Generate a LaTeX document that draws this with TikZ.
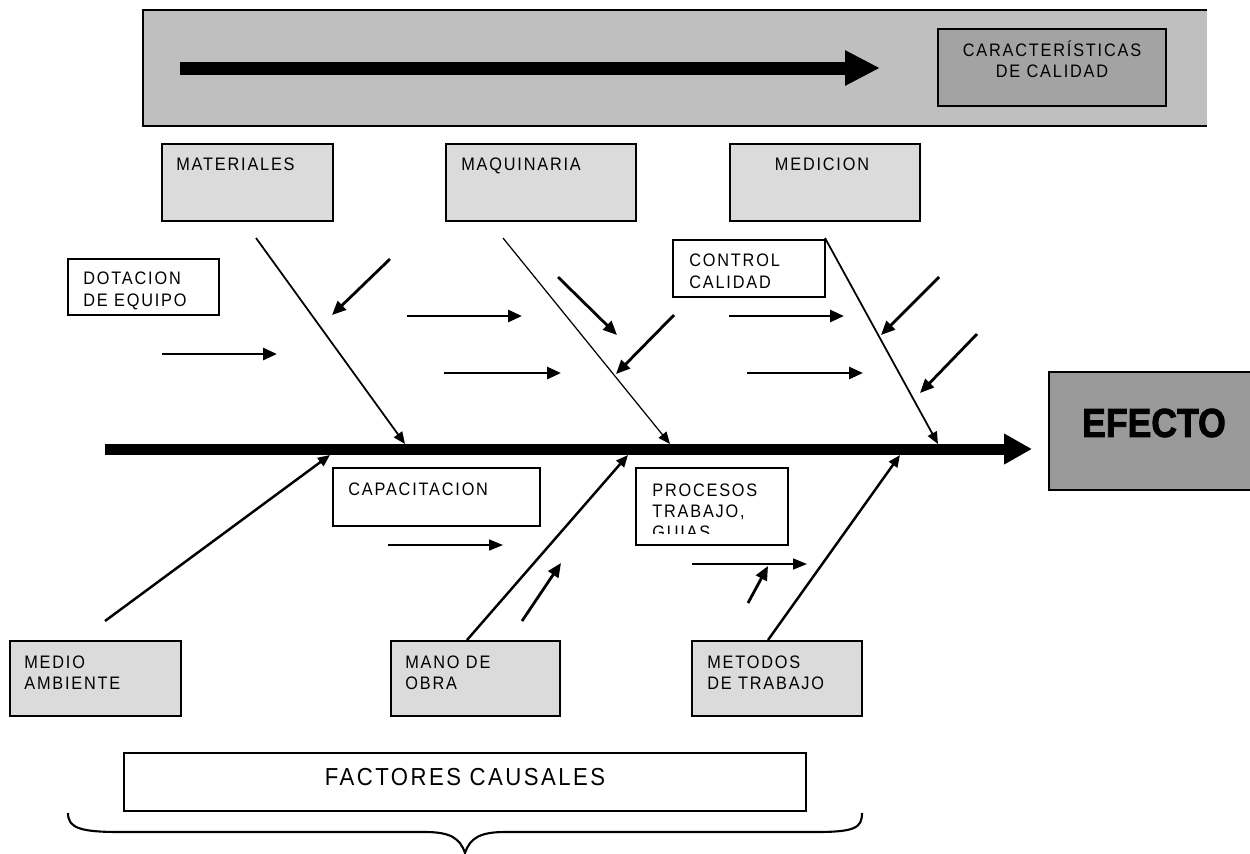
\documentclass[tikz,border=0pt]{standalone}
\usepackage{fontspec}
\setmainfont{Liberation Sans}
\newfontfamily\lblfont[LetterSpace=10,FakeStretch=0.9]{Liberation Sans}
\newfontfamily\efectofont[FakeBold=2,FakeStretch=0.88]{Liberation Sans Bold}
\usetikzlibrary{arrows.meta,fit}
\definecolor{bannergray}{gray}{0.75}
\definecolor{caractgray}{gray}{0.64}
\definecolor{catgray}{gray}{0.86}
\definecolor{efectogray}{gray}{0.6}

\begin{document}
\begin{tikzpicture}[x=0.02cm, y=-0.02cm,
  catbox/.style = {draw, line width=1pt, fill=catgray, inner sep=0},
  subbox/.style = {draw, line width=0.8pt, fill=white, inner sep=0},
  lbl/.style = {inner sep=0, anchor=north west, align=left, font=\lblfont\fontsize{10.3}{12}\selectfont},
  bone/.style = {line width=1pt, -{Triangle[length=0.24cm,width=0.2cm]}},
  lowbone/.style = {line width=1.4pt, -{Triangle[length=0.24cm,width=0.2cm]}},
  cause/.style = {line width=1.6pt, -{Triangle[length=0.28cm,width=0.24cm]}},
  lightcause/.style = {line width=0.9pt, -{Triangle[length=0.28cm,width=0.22cm]}}]
\useasboundingbox (0,0) rectangle (1250,853);

\node[fill=bannergray, inner sep=0, fit={(143,10) (1207,126)}] (banner) {};
\draw[line width=1.2pt] (banner.north east) -- (banner.north west) -- (banner.south west) -- (banner.south east);
\node[draw, line width=1pt, fill=caractgray, inner sep=0, fit={(938,29) (1166,106)}] (caract) {};
\node[lbl, anchor=north, align=center] (caract-t) at (1052,40) {CARACTERÍSTICAS\\DE CALIDAD};
\coordinate (flow-s) at (180,68);
\coordinate (flow-e) at (880,68);
\draw[line width=0.26cm, -{Triangle[length=0.7cm,width=0.66cm]}] (flow-s) -- (flow-e);

\node[catbox, fit={(162,144) (333,221)}] (materiales) {};
\node[lbl] (materiales-t) at (176,158) {MATERIALES};
\node[catbox, fit={(446,144) (636,221)}] (maquinaria) {};
\node[lbl] (maquinaria-t) at (461,158) {MAQUINARIA};
\node[catbox, fit={(730,144) (920,221)}] (medicion) {};
\node[lbl, anchor=north] (medicion-t) at (822,158) {MEDICION};

\node[subbox, fit={(68,259) (219,315)}] (dotacion) {};
\node[lbl] (dotacion-t) at (83,272) {DOTACION\\DE EQUIPO};
\node[subbox, fit={(673,240) (825,297)}] (control) {};
\node[lbl] (control-t) at (689,254) {CONTROL\\CALIDAD};

\node[draw, line width=1.6pt, fill=efectogray, inner sep=0, fit={(1049,372) (1264,490)}] (efecto) {};
\node[font=\efectofont\fontsize{23}{25}\selectfont] (efecto-t) at (1154,423) {EFECTO};

\coordinate (spine-s) at (105,449);
\coordinate (spine-e) at (1032,449);
\draw[line width=0.22cm, -{Triangle[length=0.56cm,width=0.58cm]}] (spine-s) -- (spine-e);

\coordinate (mat-s) at (256,238);
\coordinate (mat-e) at (405,444);
\coordinate (maq-s) at (503,238);
\coordinate (maq-e) at (670,444);
\coordinate (med-s) at (825,238);
\coordinate (med-e) at (938,444);
\draw[bone] (mat-s) -- (mat-e);
\draw[bone, line width=0.7pt] (maq-s) -- (maq-e);
\draw[bone] (med-s) -- (med-e);

\coordinate (c1-s) at (390,259);
\coordinate (c1-e) at (332,315);
\coordinate (c2-s) at (162,354);
\coordinate (c2-e) at (277,354);
\coordinate (c3-s) at (407,316);
\coordinate (c3-e) at (522,316);
\coordinate (c4-s) at (444,373);
\coordinate (c4-e) at (561,373);
\coordinate (c5-s) at (558,277);
\coordinate (c5-e) at (617,335);
\coordinate (c6-s) at (674,315);
\coordinate (c6-e) at (616,374);
\coordinate (c7-s) at (729,316);
\coordinate (c7-e) at (844,316);
\coordinate (c8-s) at (747,373);
\coordinate (c8-e) at (863,373);
\coordinate (c9-s) at (939,277);
\coordinate (c9-e) at (881,335);
\coordinate (c10-s) at (977,334);
\coordinate (c10-e) at (920,393);
\draw[cause] (c1-s) -- (c1-e);
\draw[cause] (c2-s) -- (c2-e);
\draw[cause] (c3-s) -- (c3-e);
\draw[cause] (c4-s) -- (c4-e);
\draw[cause] (c5-s) -- (c5-e);
\draw[cause] (c6-s) -- (c6-e);
\draw[cause] (c7-s) -- (c7-e);
\draw[cause] (c8-s) -- (c8-e);
\draw[cause] (c9-s) -- (c9-e);
\draw[cause] (c10-s) -- (c10-e);

\node[subbox, fit={(333,468) (540,526)}] (capacitacion) {};
\node[lbl] (capacitacion-t) at (348,482) {CAPACITACION};
\node[subbox, fit={(636,468) (788,545)}] (procesos) {};
\begin{scope}
\clip (636,468) rectangle (788,533);
\node[lbl] (procesos-t) at (652,483) {PROCESOS\\TRABAJO,\\GUIAS};
\end{scope}

\node[catbox, fit={(10,641) (181,716)}] (medio) {};
\node[lbl] (medio-t) at (24,655) {MEDIO\\AMBIENTE};
\node[catbox, fit={(391,641) (560,716)}] (mano) {};
\node[lbl] (mano-t) at (405,655) {MANO DE\\OBRA};
\node[catbox, fit={(692,641) (862,716)}] (metodos) {};
\node[lbl] (metodos-t) at (707,655) {METODOS\\DE TRABAJO};

\coordinate (amb-s) at (105,621);
\coordinate (amb-e) at (330,455);
\coordinate (obra-s) at (467,640);
\coordinate (obra-e) at (628,455);
\coordinate (met-s) at (768,640);
\coordinate (met-e) at (900,455);
\draw[lowbone] (amb-s) -- (amb-e);
\draw[lowbone] (obra-s) -- (obra-e);
\draw[lowbone] (met-s) -- (met-e);

\coordinate (c11-s) at (388,545);
\coordinate (c11-e) at (503,545);
\coordinate (c12-s) at (692,564);
\coordinate (c12-e) at (807,564);
\coordinate (c13-s) at (522,621);
\coordinate (c13-e) at (561,563);
\coordinate (c14-s) at (748,603);
\coordinate (c14-e) at (768,566);
\draw[lightcause] (c11-s) -- (c11-e);
\draw[lightcause] (c12-s) -- (c12-e);
\draw[cause] (c13-s) -- (c13-e);
\draw[cause] (c14-s) -- (c14-e);

\node[subbox, fit={(124,753) (806,811)}] (factores) {};
\node[lbl, anchor=north, font=\lblfont\fontsize{14}{16}\selectfont] (factores-t) at (465,768) {FACTORES CAUSALES};
\draw[line width=1.2pt] (68,813) .. controls (68,828) and (80,832) .. (120,832) -- (425,832) .. controls (450,832) and (460,838) .. (465,853) .. controls (470,838) and (480,832) .. (505,832) -- (815,832) .. controls (855,832) and (862,828) .. (862,813);
\end{tikzpicture}
\end{document}
